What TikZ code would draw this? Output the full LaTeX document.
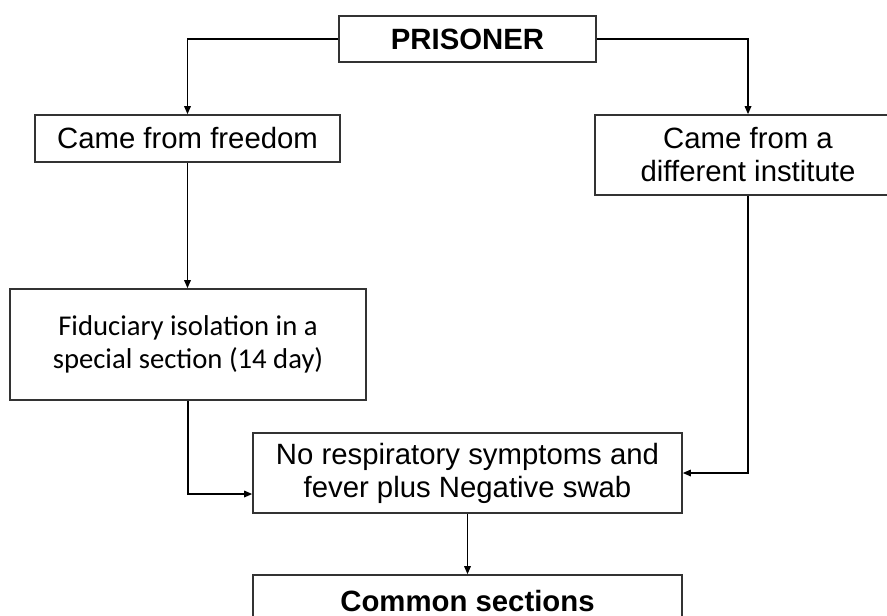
\documentclass[tikz,border=0pt]{standalone}
\usepackage{fontspec}
\setmainfont{Liberation Sans}
\newfontfamily\calibri{Carlito}
\usepackage{xcolor}
\usetikzlibrary{arrows.meta, positioning, calc}
\definecolor{trait}{HTML}{333333}

\begin{document}
\begin{tikzpicture}[x=0.75pt, y=-0.75pt,
    cadre/.style={draw=trait, line width=1.3pt, align=center, inner sep=0pt,
      font=\fontsize{22}{24.75}\selectfont},
    fleche/.style={draw=black, line width=0.9pt, -{Triangle[length=6pt, width=5pt]}}]
    \useasboundingbox (0,0) rectangle (887,615);
    \node[cadre, minimum width=257*0.75pt, minimum height=46*0.75pt, font=\fontsize{22}{24.75}\selectfont\bfseries] (prisoner) at (467.5,39) {PRISONER};
    \node[cadre, minimum width=305*0.75pt, minimum height=47*0.75pt] (freedom) at (187.5,138.5) {Came from freedom};
    \node[cadre, minimum width=306*0.75pt, minimum height=80*0.75pt] (institute) at (748,155) {Came from a\\different institute};
    \node[cadre, minimum width=356*0.75pt, minimum height=111*0.75pt, font=\calibri\fontsize{21.5}{24.75}\selectfont] (isolation) at (188,344.5) {Fiduciary isolation in a\\special section (14 day)};
    \node[cadre, minimum width=429*0.75pt, minimum height=80*0.75pt] (swab) at (467.5,473) {No respiratory symptoms and\\fever plus Negative swab};
    \node[cadre, minimum width=429*0.75pt, minimum height=52*0.75pt, font=\fontsize{22}{24.75}\selectfont\bfseries] (common) at (467.5,601) {Common sections};
    \draw[fleche] (prisoner.west) -| (freedom.north);
    \draw[fleche] (prisoner.east) -| (institute.north);
    \draw[fleche] (freedom.south) -- (freedom.south |- isolation.north);
    \draw[fleche] (isolation.south) |- ([yshift=-15.75pt]swab.west);
    \draw[fleche] (institute.south) |- (swab.east);
    \draw[fleche] (swab.south) -- (common.north);
  \end{tikzpicture}
\end{document}
